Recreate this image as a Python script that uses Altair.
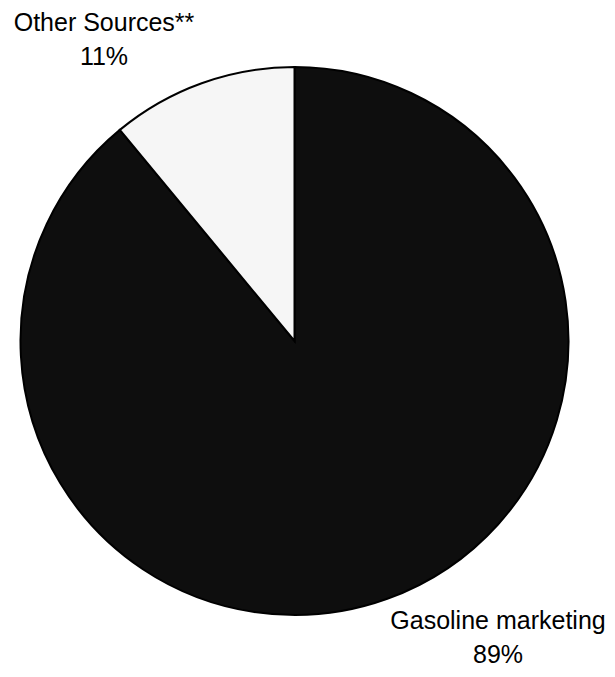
import altair as alt
import pandas as pd

categories = ["Gasoline marketing", "Other Sources**"]
shares = [89, 11]
pct_labels = ["89%", "11%"]

df = pd.DataFrame({"category": categories, "share": shares, "pct": pct_labels, "rank": [0, 1]})

base = alt.Chart(df)

pie = base.mark_arc(outerRadius=274, stroke="black", strokeWidth=2).encode(
    theta=alt.Theta("share:Q", stack=True),
    order=alt.Order("rank:Q"),
    color=alt.Color(
        "category:N",
        scale=alt.Scale(domain=categories, range=["#0e0e0e", "#f6f6f6"]),
        legend=None,
    ),
    x=alt.value(286.5),
    y=alt.value(333),
)

def label(cat, x, y):
    return (
        base.transform_filter(alt.datum.category == cat)
        .transform_calculate(label="datum.category + '|' + datum.pct")
        .mark_text(
            lineBreak="|",
            lineHeight=34,
            font="Liberation Sans",
            fontSize=25,
            color="black",
            align="center",
            baseline="alphabetic",
        )
        .encode(text="label:N", x=alt.value(x), y=alt.value(y))
    )

chart = (
    alt.layer(pie, label("Other Sources**", 96, 23), label("Gasoline marketing", 490, 621))
    .properties(width=599, height=661, padding=0, autosize="none")
    .configure_view(stroke=None)
)

chart.save("out.html", embed_options={"renderer": "svg", "actions": False})
